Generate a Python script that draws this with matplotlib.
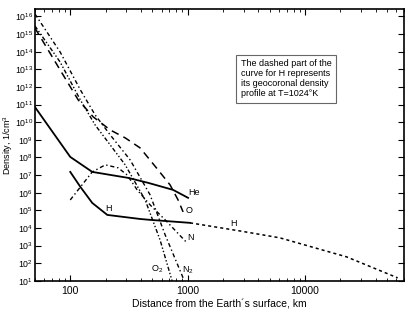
import numpy as np
import matplotlib
matplotlib.use('Agg')
import matplotlib.pyplot as plt
from matplotlib.ticker import LogLocator, NullLocator, NullFormatter

plt.rcParams['font.family'] = ['Liberation Sans', 'DejaVu Sans']
plt.rcParams['mathtext.default'] = 'regular'

# altitude (km) and log10 density (1/cm^3)
x_he = [50, 100, 154, 312, 461, 753, 1010]
n_he = [10.86, 8.03, 7.18, 6.84, 6.56, 6.16, 5.71]

x_h = [100, 122, 154, 207, 394, 479, 1050]
n_h = [7.18, 6.33, 5.42, 4.74, 4.51, 4.46, 4.29]

x_hgeo = [1050, 2800, 6120, 22700, 61800]
n_hgeo = [4.29, 3.83, 3.44, 2.36, 1.17]

x_o = [50, 82, 117, 157, 219, 294, 394, 561, 710, 830, 916]
n_o = [15.34, 12.96, 11.26, 10.30, 9.56, 9.11, 8.54, 7.29, 6.44, 5.59, 4.91]

x_n = [100, 126, 154, 199, 256, 305, 372, 479, 644, 991]
n_n = [5.59, 6.44, 7.18, 7.58, 7.41, 7.01, 6.16, 5.31, 4.46, 3.15]

x_n2 = [50, 82, 122, 163, 219, 324, 479, 644, 916]
n_n2 = [16.14, 13.98, 11.83, 10.41, 9.28, 7.86, 5.88, 3.61, 1.17]

x_o2 = [50, 82, 122, 163, 219, 294, 435, 583, 738]
n_o2 = [15.46, 13.41, 11.26, 9.84, 8.71, 7.58, 5.59, 3.32, 1.0]

note = ('The dashed part of the\ncurve for H represents\n'
        'its geocoronal density\nprofile at T=1024°K')

fig = plt.figure(figsize=(4.11, 3.10), dpi=100)
ax = fig.add_axes([0.085, 0.094, 0.898, 0.877])

p = lambda v: 10.0 ** np.array(v)
ax.plot(x_he, p(n_he), 'k-', lw=1.3)
ax.plot(x_h, p(n_h), 'k-', lw=1.3)
ax.plot(x_hgeo, p(n_hgeo), 'k', ls=(0, (2, 2)), lw=1.1)
ax.plot(x_o, p(n_o), 'k', ls=(0, (5, 3.5)), lw=1.1)
ax.plot(x_n, p(n_n), 'k', ls=(0, (3, 2, 1, 2)), lw=1.0)
ax.plot(x_n2, p(n_n2), 'k', ls=(0, (3, 2, 1, 2)), lw=1.0)
ax.plot(x_o2, p(n_o2), 'k', ls=(0, (3, 1.5, 1, 1.5, 1, 1.5)), lw=1.0)

ax.set_xscale('log')
ax.set_yscale('log')
ax.set_xlim(50, 70000)
ax.set_ylim(10, 10 ** 16.42)

ax.yaxis.set_major_locator(LogLocator(base=10, subs=(1.0,), numticks=30))
ax.yaxis.set_minor_locator(NullLocator())
ax.xaxis.set_minor_locator(LogLocator(base=10, subs=np.arange(2, 10), numticks=30))
ax.xaxis.set_minor_formatter(NullFormatter())
ax.set_xticks([100, 1000, 10000])
ax.set_xticklabels(['100', '1000', '10000'])
ax.tick_params(which='both', direction='in', top=True, right=True, labelsize=7.5)
ax.tick_params(axis='y', labelsize=6.3, pad=1.2)
ax.tick_params(which='major', length=4)
ax.tick_params(which='minor', length=2.5)
for s in ax.spines.values():
    s.set_linewidth(1.2)

ax.set_xlabel('Distance from the Earth´s surface, km', fontsize=7.5, labelpad=3)
ax.set_ylabel('Density, 1/cm$^3$', fontsize=6.5)
ax.yaxis.set_label_coords(-0.053, 0.5)

ax.text(1010, 10 ** 5.85, 'He', fontsize=6.5)
ax.text(960, 10 ** 4.85, 'O', fontsize=6.5)
ax.text(1000, 10 ** 3.3, 'N', fontsize=6.5)
ax.text(490, 10 ** 1.55, 'O$_2$', fontsize=6.5)
ax.text(900, 10 ** 1.45, 'N$_2$', fontsize=6.5)
ax.text(200, 10 ** 4.95, 'H', fontsize=6.5)
ax.text(2300, 10 ** 4.1, 'H', fontsize=6.5)

ax.text(0.558, 0.815, note, transform=ax.transAxes, fontsize=6.5, va='top',
        ha='left', linespacing=1.15,
        bbox=dict(boxstyle='square,pad=0.5', fc='white', ec='0.4', lw=0.8))

fig.savefig('out.png', dpi=100)
